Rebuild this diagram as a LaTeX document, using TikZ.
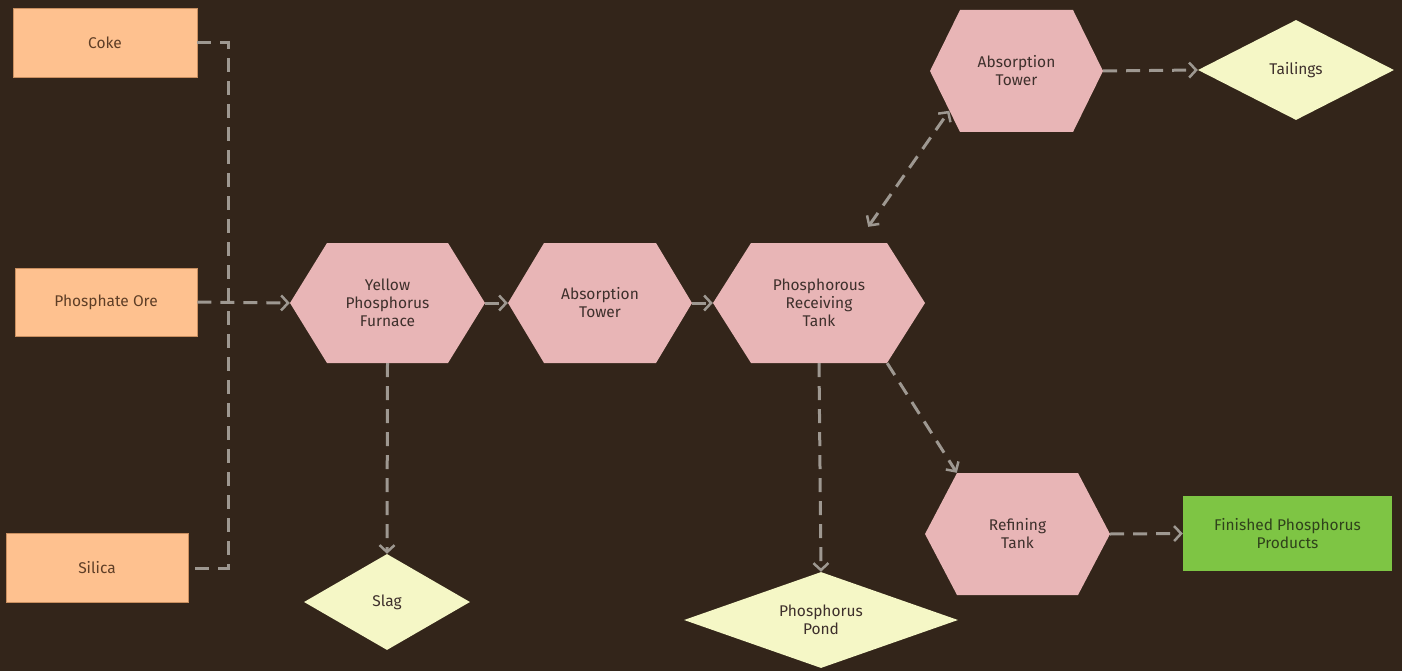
\documentclass[tikz,border=0pt]{standalone}
\usepackage{fontspec}
\setmainfont{Fira Sans}
\usetikzlibrary{shapes.geometric,arrows.meta,calc}
\definecolor{bg}{HTML}{33251A}
\definecolor{peach}{HTML}{FEC18F}
\definecolor{peachd}{HTML}{C98F60}
\definecolor{pinkc}{HTML}{E8B5B6}
\definecolor{paley}{HTML}{F5F7C6}
\definecolor{greenc}{HTML}{7EC544}
\definecolor{linec}{HTML}{9E9891}
\definecolor{txt}{HTML}{3E302C}
\definecolor{txtb}{HTML}{5E3E26}
\definecolor{txtg}{HTML}{2F421B}
\begin{document}
\begin{tikzpicture}[x=1pt,y=-1pt,
  every node/.style={font=\fontsize{15.5}{18}\selectfont, align=center, text=txt, inner sep=0pt},
  box/.style n args={2}{rectangle, minimum width=#1, minimum height=#2, fill=peach, draw=peachd, line width=0.8pt, text=txtb},
  hexnode/.style n args={3}{rectangle, minimum width=#1, minimum height=#2, fill=bg,
    path picture={\fill[pinkc] ([xshift=#3]path picture bounding box.north west)
      -- ([xshift=-#3]path picture bounding box.north east)
      -- (path picture bounding box.east)
      -- ([xshift=-#3]path picture bounding box.south east)
      -- ([xshift=#3]path picture bounding box.south west)
      -- (path picture bounding box.west) -- cycle;}},
  dia/.style n args={3}{diamond, minimum width=#1, minimum height=#2, shape aspect=#3, fill=paley, draw=none},
  conn/.style={draw=linec, line width=3pt, dash pattern=on 14pt off 9pt},
  arr/.style={conn, -{Straight Barb[length=7pt,width=15pt,line width=2.5pt]}},
  arrb/.style={conn, {Straight Barb[length=7pt,width=15pt,line width=2.5pt]}-{Straight Barb[length=7pt,width=15pt,line width=2.5pt]}}
]
\fill[bg] (0,0) rectangle (1402,671);
\useasboundingbox (0,0) rectangle (1402,671);

% source boxes
\node[box={184}{69}] (coke) at (105,43) {Coke};
\node[box={182}{68}] (ore) at (106,302) {Phosphate Ore};
\node[box={182}{69}] (silica) at (97,568) {Silica};

% process hexagons
\node[hexnode={195}{120}{37}] (furnace) at (387.5,303) {Yellow\\Phosphorus\\Furnace};
\node[hexnode={184}{120}{36}] (abs1) at (600,303) {Absorption\\Tower};
\node[hexnode={212}{120}{38}] (tank) at (819,303) {Phosphorous\\Receiving\\Tank};
\node[hexnode={173}{122}{30}] (abs2) at (1016.5,71) {Absorption\\Tower};
\node[hexnode={185}{122}{32}] (refine) at (1017.5,534) {Refining\\Tank};

% outputs
\node[dia={196}{100}{1.96}] (tail) at (1296,70) {Tailings};
\node[dia={166}{96}{1.73}] (slag) at (387,602) {Slag};
\node[dia={274}{96}{2.85}] (pond) at (821,620) {Phosphorus\\Pond};
\node[rectangle, minimum width=209, minimum height=75, fill=greenc, text=txtg] (fin) at (1287.5,533.5) {Finished Phosphorus\\Products};

% connectors
\coordinate (jt) at (228,43);
\coordinate (jb) at (228,568);
\draw[conn] (coke.east) -- (jt) -- (jb) -- (silica.east);
\draw[arr] (ore.east) -- (furnace.west);
\draw[arr] (furnace.east) -- (abs1.west);
\draw[arr] (abs1.east) -- (tank.west);
\draw[arr] (furnace.south) -- (slag.north);
\draw[arr] (tank.south) -- (pond.north);
\draw[arr] ([xshift=-38]tank.south east) -- ([xshift=32]refine.north west);
\coordinate (dstart) at ($(tank.north east)+(-57,-16)$);
\draw[arrb] (dstart) -- ($(abs2.west)!0.65!([xshift=30]abs2.south west)$);
\draw[arr] (abs2.east) -- (tail.west);
\draw[arr] (refine.east) -- (fin.west);
\end{tikzpicture}
\end{document}
